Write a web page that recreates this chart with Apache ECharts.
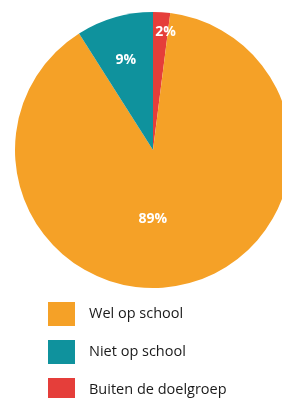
<!DOCTYPE html>
<html><head><meta charset="utf-8">
<script src="https://cdn.jsdelivr.net/npm/echarts@6/dist/echarts.min.js"></script>
<style>html,body{margin:0;padding:0;background:#fff}#c{width:282px;height:398px}</style>
</head><body><div id="c"></div>
<script>
// Data (clockwise from 12 o'clock)
const categories = ["Buiten de doelgroep", "Wel op school", "Niet op school"];
const values = [2, 89, 9];
const legendOrder = ["Wel op school", "Niet op school", "Buiten de doelgroep"];
const colors = {"Wel op school": "#F5A127", "Niet op school": "#0F929D", "Buiten de doelgroep": "#E53E3A"};
const labelOffsets = {"Buiten de doelgroep": [8, -46], "Wel op school": [-16, -1], "Niet op school": [-7, -21]};

const chart = echarts.init(document.getElementById('c'), null, {renderer: 'canvas'});
chart.setOption({
  animation: false,
  legend: {
    data: legendOrder,
    orient: 'vertical',
    left: 48, top: 302, height: 140, width: 230,
    padding: 0,
    icon: 'rect',
    itemWidth: 27, itemHeight: 24, itemGap: 14,
    textStyle: {fontFamily: 'Open Sans', fontSize: 14.5, fontWeight: 500, color: '#1a1a1a', padding: [0, 0, 0, 9]}
  },
  series: [{
    type: 'pie',
    center: [153, 150],
    radius: 138,
    startAngle: 90,
    clockwise: true,
    silent: true,
    label: {
      position: 'inside',
      formatter: '{c}%',
      color: '#fff',
      fontFamily: 'Open Sans',
      fontWeight: 'bold',
      fontSize: 14
    },
    labelLine: {show: false},
    data: categories.map((n, i) => ({
      name: n, value: values[i],
      itemStyle: {color: colors[n]},
      label: {offset: labelOffsets[n]}
    }))
  }]
});
</script></body></html>
